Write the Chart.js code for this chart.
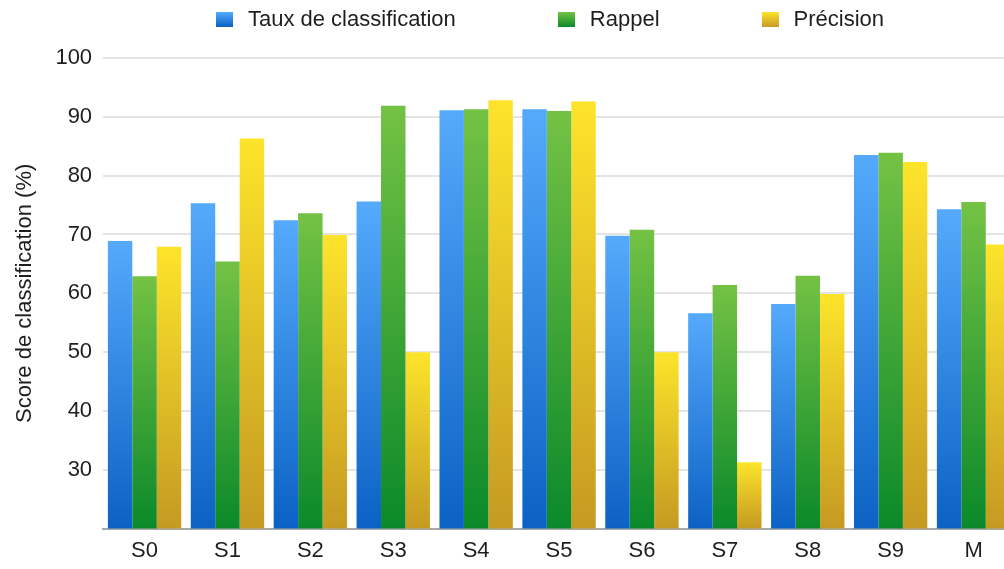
<!DOCTYPE html>
<html>

<head>
    <title>Score de classification</title>
    <script src="https://cdn.jsdelivr.net/npm/chart.js"></script>
    <meta name="viewport" content="width=device-width, initial-scale=1">
    <style>
        html, body { margin: 0; padding: 0; background: #fff; overflow: hidden; }
        #wrap { position: relative; width: 1004px; height: 569px; overflow: hidden; }
        #legend {
            position: absolute; top: 6px; left: 0; width: 1100px;
            display: flex; justify-content: center; gap: 102px;
            font-family: "Liberation Sans", Arial, sans-serif; font-size: 22px; color: #1e1e1e;
        }
        #legend .item { display: flex; align-items: center; }
        #legend .box { width: 17px; height: 15px; margin-right: 15px; }
        canvas { position: absolute; top: 0; left: 0; }
    </style>
</head>

<body>
    <div id="wrap">
        <canvas id="scoreChart" width="1015" height="569"></canvas>
        <div id="legend"></div>
    </div>
</body>

</html>

<script>
    // catégories et valeurs
    const labels = ['S0', 'S1', 'S2', 'S3', 'S4', 'S5', 'S6', 'S7', 'S8', 'S9', 'M'];
    const taux = [68.9, 75.3, 72.4, 75.6, 91.1, 91.3, 69.8, 56.6, 58.2, 83.5, 74.3];
    const rappel = [62.9, 65.4, 73.6, 91.9, 91.3, 91.0, 70.8, 61.4, 63.0, 83.9, 75.5];
    const precision = [67.9, 86.3, 69.9, 50.0, 92.8, 92.6, 50.0, 31.3, 59.9, 82.3, 68.3];
    const seriesNames = ['Taux de classification', 'Rappel', 'Précision'];
    const yTicks = [30, 40, 50, 60, 70, 80, 90, 100];

    // couleurs haut / bas du dégradé de chaque série
    const colors = [
        ['#55aafc', '#0b62c4'],
        ['#74c244', '#0b892a'],
        ['#fde42b', '#c59a22']
    ];

    const font = "'Liberation Sans', Arial, sans-serif";

    // dégradé propre à chaque barre (clair en haut, foncé en bas)
    function barGradient(idx) {
        return function (ctx) {
            const chart = ctx.chart;
            const area = chart.chartArea;
            if (!area || ctx.type !== 'data') return colors[idx][0];
            const top = chart.scales.y.getPixelForValue(ctx.raw);
            const g = chart.ctx.createLinearGradient(0, top, 0, area.bottom);
            g.addColorStop(0, colors[idx][0]);
            g.addColorStop(1, colors[idx][1]);
            return g;
        };
    }

    // légende HTML
    const legend = document.getElementById('legend');
    seriesNames.forEach((name, i) => {
        legend.innerHTML += `<div class="item"><span class="box" style="background:linear-gradient(${colors[i][0]}, ${colors[i][1]})"></span>${name}</div>`;
    });

    const ctx = document.getElementById('scoreChart').getContext('2d');
    const chart = new Chart(ctx, {
        type: 'bar',
        data: {
            labels: labels,
            datasets: [taux, rappel, precision].map((d, i) => ({
                label: seriesNames[i],
                data: d,
                backgroundColor: barGradient(i),
                borderWidth: 0,
                categoryPercentage: 0.885,
                barPercentage: 1.0
            }))
        },
        options: {
            responsive: false,
            animation: false,
            layout: {
                padding: { top: 58, right: 0, bottom: -4, left: 12 }
            },
            plugins: {
                legend: { display: false },
                tooltip: { enabled: false }
            },
            scales: {
                x: {
                    grid: { display: false, drawTicks: false },
                    border: { display: true, color: '#a9a9a9', width: 2 },
                    ticks: { color: '#1e1e1e', padding: 9, font: { family: font, size: 22 } }
                },
                y: {
                    min: 20,
                    max: 100,
                    afterBuildTicks: axis => { axis.ticks = [20].concat(yTicks).map(v => ({ value: v })); },
                    grid: {
                        color: c => c.tick && c.tick.value === 20 ? 'rgba(0,0,0,0)' : '#e4e4e4',
                        lineWidth: 2,
                        drawTicks: false
                    },
                    border: { display: false },
                    ticks: {
                        color: '#1e1e1e',
                        padding: 11,
                        font: { family: font, size: 22 },
                        callback: v => v === 20 ? '' : v
                    },
                    title: {
                        display: true,
                        text: 'Score de classification (%)',
                        color: '#1e1e1e',
                        font: { family: font, size: 22 },
                        padding: { top: 0, bottom: 6 }
                    }
                }
            }
        }
    });
</script>
